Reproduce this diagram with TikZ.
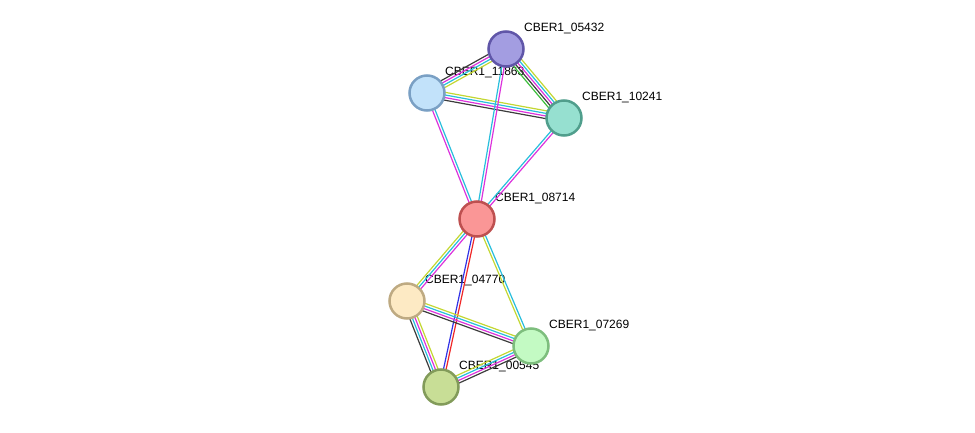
\documentclass[tikz,border=0pt]{standalone}
\usepackage{fontspec}
\setmainfont{Liberation Sans}
\usepackage{tikz}
\usetikzlibrary{calc, backgrounds}
\pgfdeclarelayer{names}
\pgfsetlayers{names,background,main}

\definecolor{ecyan}{RGB}{40,190,220}
\definecolor{emag}{RGB}{220,50,220}
\definecolor{eyel}{RGB}{195,215,50}
\definecolor{eblk}{RGB}{60,60,60}
\definecolor{egrn}{RGB}{60,190,60}
\definecolor{eblue}{RGB}{50,50,230}
\definecolor{ered}{RGB}{240,40,40}

% one band of parallel lines between two proteins: offset/colour pairs
\newcommand{\band}[3]{%
  \foreach \o/\c in {#3} {
    \draw[\c, line width=1.2pt] ($(#1)!\o pt!90:(#2)$) -- ($(#2)!\o pt!-90:(#1)$);
  }%
}

\begin{document}
\begin{tikzpicture}[x=1pt, y=-1pt]
\tikzstyle{prot}=[circle, minimum size = 35pt, inner sep = 0pt, line width = 2.5pt]
\tikzstyle{lbl}=[font=\fontsize{12}{14}\selectfont, inner sep = 1pt, anchor = south west, xshift = 3.7pt, yshift = 0.7pt]
\useasboundingbox (0,0) rectangle (975,433);
\node[prot, draw={rgb,255:red,96;green,86;blue,168}, fill={rgb,255:red,163;green,157;blue,225}] (p05432) at (506, 49) {};
\node[prot, draw={rgb,255:red,122;green,160;blue,196}, fill={rgb,255:red,194;green,226;blue,250}] (p11863) at (427, 93) {};
\node[prot, draw={rgb,255:red,80;green,158;blue,140}, fill={rgb,255:red,150;green,224;blue,208}] (p10241) at (564, 118) {};
\node[prot, draw={rgb,255:red,190;green,80;blue,80}, fill={rgb,255:red,250;green,150;blue,150}] (p08714) at (477, 219) {};
\node[prot, draw={rgb,255:red,190;green,170;blue,130}, fill={rgb,255:red,253;green,234;blue,196}] (p04770) at (407, 301) {};
\node[prot, draw={rgb,255:red,125;green,190;blue,125}, fill={rgb,255:red,195;green,250;blue,195}] (p07269) at (531, 346) {};
\node[prot, draw={rgb,255:red,130;green,155;blue,90}, fill={rgb,255:red,200;green,222;blue,150}] (p00545) at (441, 387) {};
\begin{pgfonlayer}{names}
\node[lbl] (t05432) at (p05432.north east) {CBER1\_05432};
\node[lbl] (t11863) at (p11863.north east) {CBER1\_11863};
\node[lbl] (t10241) at (p10241.north east) {CBER1\_10241};
\node[lbl] (t08714) at (p08714.north east) {CBER1\_08714};
\node[lbl] (t04770) at (p04770.north east) {CBER1\_04770};
\node[lbl] (t07269) at (p07269.north east) {CBER1\_07269};
\node[lbl] (t00545) at (p00545.north east) {CBER1\_00545};
\end{pgfonlayer}
\begin{pgfonlayer}{background}
\band{p05432}{p11863}{-3.9/eblk, -1.3/emag, 1.3/ecyan, 3.9/eyel}
\band{p05432}{p10241}{-5.2/egrn, -2.6/eblk, 0/emag, 2.6/ecyan, 5.2/eyel}
\band{p11863}{p10241}{3.9/eyel, 1.3/ecyan, -1.3/emag, -3.9/eblk}
\band{p11863}{p08714}{1.3/ecyan, -1.3/emag}
\band{p05432}{p08714}{-1.3/ecyan, 1.3/emag}
\band{p10241}{p08714}{-1.3/ecyan, 1.3/emag}
\band{p08714}{p04770}{-2.6/eyel, 0/ecyan, 2.6/emag}
\band{p08714}{p00545}{-1.3/eblue, 1.3/ered}
\band{p08714}{p07269}{1.3/ecyan, -1.3/eyel}
\band{p04770}{p07269}{3.9/eyel, 1.3/ecyan, -1.3/emag, -3.9/eblk}
\band{p04770}{p00545}{-3.9/eblk, -1.3/ecyan, 1.3/emag, 3.9/eyel}
\band{p07269}{p00545}{-3.9/eyel, -1.3/ecyan, 1.3/emag, 3.9/eblk}
\end{pgfonlayer}
\end{tikzpicture}
\end{document}
